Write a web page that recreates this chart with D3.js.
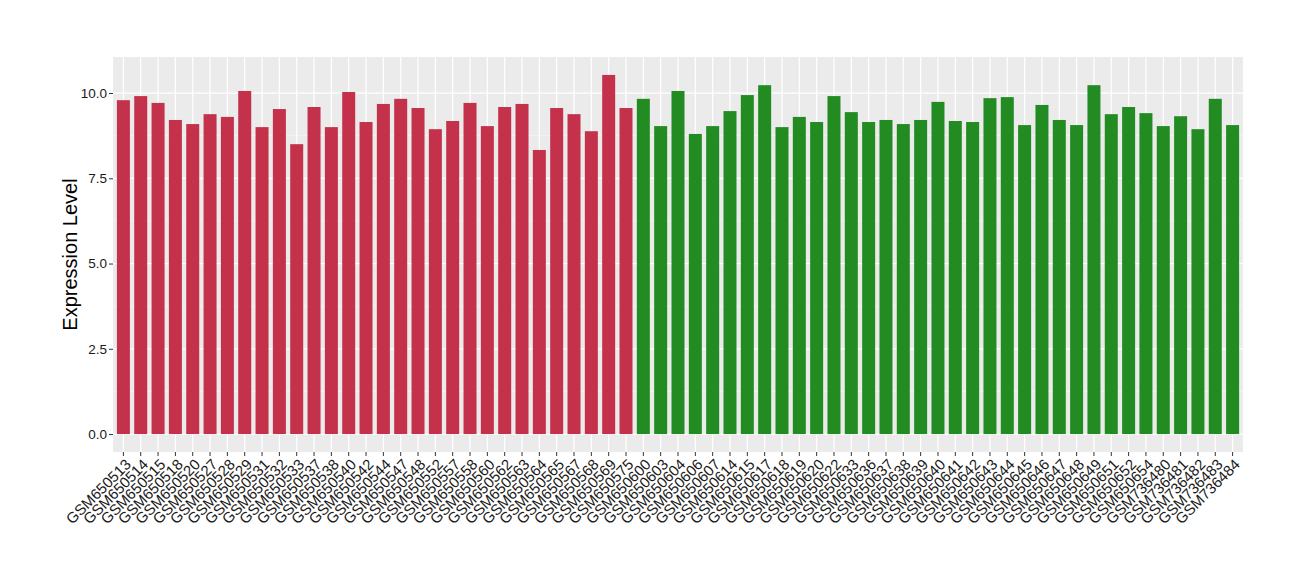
<!DOCTYPE html>
<html>
<head>
<meta charset="utf-8">
<script src="https://cdn.jsdelivr.net/npm/d3@7"></script>
<style>
  body { margin: 0; background: #fff; }
  svg { font-family: "Liberation Sans", Arial, sans-serif; }
</style>
</head>
<body>
<svg id="chart"></svg>
<script>
const width = 1300, height = 580
const margin = {
    top: 57,
    bottom: 128,
    left: 113,
    right: 57,
}

// samples, in plot order
const redSamples = ["GSM650513", "GSM650514", "GSM650515", "GSM650518", "GSM650520", "GSM650527",
    "GSM650528", "GSM650529", "GSM650531", "GSM650532", "GSM650533", "GSM650537", "GSM650538",
    "GSM650540", "GSM650542", "GSM650544", "GSM650547", "GSM650548", "GSM650552", "GSM650557",
    "GSM650558", "GSM650560", "GSM650562", "GSM650563", "GSM650564", "GSM650565", "GSM650567",
    "GSM650568", "GSM650569", "GSM650575"]
const redValues = [9.79, 9.91, 9.71, 9.21, 9.09, 9.38, 9.30, 10.06, 9.00, 9.53, 8.50, 9.59, 9.00,
    10.03, 9.15, 9.68, 9.83, 9.56, 8.94, 9.18, 9.71, 9.03, 9.59, 9.68, 8.33, 9.56, 9.38, 8.88,
    10.53, 9.56]

const greenSamples = ["GSM650600", "GSM650603", "GSM650604", "GSM650606", "GSM650607", "GSM650614",
    "GSM650615", "GSM650617", "GSM650618", "GSM650619", "GSM650620", "GSM650622", "GSM650633",
    "GSM650636", "GSM650637", "GSM650638", "GSM650639", "GSM650640", "GSM650641", "GSM650642",
    "GSM650643", "GSM650644", "GSM650645", "GSM650646", "GSM650647", "GSM650648", "GSM650649",
    "GSM650651", "GSM650652", "GSM650654", "GSM736480", "GSM736481", "GSM736482", "GSM736483",
    "GSM736484"]
const greenValues = [9.83, 9.03, 10.06, 8.80, 9.03, 9.47, 9.94, 10.23, 9.00, 9.30, 9.15, 9.91, 9.44,
    9.15, 9.21, 9.09, 9.21, 9.74, 9.18, 9.15, 9.85, 9.88, 9.06, 9.65, 9.21, 9.06, 10.23, 9.38,
    9.59, 9.41, 9.03, 9.32, 8.94, 9.83, 9.06]

const yTicks = [0, 2.5, 5, 7.5, 10]
const yMinor = [1.25, 3.75, 6.25, 8.75]

const data = [
    ...redSamples.map((s, i) => ({sample: s, value: redValues[i], group: "red"})),
    ...greenSamples.map((s, i) => ({sample: s, value: greenValues[i], group: "green"})),
]

const colorScale = d3.scaleOrdinal()
    .domain(["red", "green"])
    .range(["#c3314a", "#228b22"])

const svg = d3.select("svg#chart")
    .attr("viewBox", [0, 0, width, height])
    .attr("width", width)
    .attr("height", height)

// bar width 0.75 of a step, 0.6 step of expansion on each side
const xScale = d3.scaleBand()
    .domain(data.map(d => d.sample))
    .range([margin.left, width - margin.right])
    .paddingInner(0.25)
    .paddingOuter(0.225)

const maxV = d3.max(data, d => d.value)
const yScale = d3.scaleLinear()
    .domain([-0.05 * maxV, maxV * 1.05])
    .range([height - margin.bottom, margin.top])

// panel
svg.append("rect")
    .attr("x", margin.left)
    .attr("y", margin.top)
    .attr("width", width - margin.left - margin.right)
    .attr("height", height - margin.top - margin.bottom)
    .attr("fill", "#ebebeb")

// minor h grid
svg.append("g").classed("h-grid-minor", true)
    .selectAll("line")
    .data(yMinor)
    .enter()
    .append("line")
    .attr("x1", margin.left)
    .attr("x2", width - margin.right)
    .attr("y1", d => yScale(d))
    .attr("y2", d => yScale(d))
    .attr("stroke", "#f7f7f7")
    .attr("stroke-width", 0.7)

// major h grid
svg.append("g").classed("h-grid", true)
    .selectAll("line")
    .data(yTicks)
    .enter()
    .append("line")
    .attr("x1", margin.left)
    .attr("x2", width - margin.right)
    .attr("y1", d => yScale(d))
    .attr("y2", d => yScale(d))
    .attr("stroke", "#fff")
    .attr("stroke-width", 1.2)

// V grid lines
svg.append("g").classed("v-grid", true)
    .selectAll("line")
    .data(xScale.domain())
    .enter()
    .append("line")
    .attr("x1", d => xScale(d) + xScale.bandwidth() / 2)
    .attr("x2", d => xScale(d) + xScale.bandwidth() / 2)
    .attr("y1", margin.top)
    .attr("y2", height - margin.bottom)
    .attr("stroke", "#fff")
    .attr("stroke-width", 1.2)

// Bars
svg.append("g").classed("bars", true)
    .selectAll("rect")
    .data(data)
    .enter()
    .append("rect")
    .attr("x", d => xScale(d.sample))
    .attr("y", d => yScale(d.value))
    .attr("width", xScale.bandwidth())
    .attr("height", d => yScale(0) - yScale(d.value))
    .attr("fill", d => colorScale(d.group))

// Y axis
const yAxis = svg.append("g").classed("y-axis", true)
    .attr("transform", `translate(${margin.left}, 0)`)
    .call(d3.axisLeft(yScale).tickValues(yTicks).tickFormat(d3.format(".1f")).tickSize(4).tickPadding(2))
yAxis.select(".domain").remove()
yAxis.selectAll(".tick line").attr("stroke", "#333")
yAxis.selectAll(".tick text")
    .attr("fill", "#1a1a1a")
    .attr("font-size", null)
    .style("font-size", "13.5px")

// X axis
const xAxis = svg.append("g").classed("x-axis", true)
    .attr("transform", `translate(0, ${height - margin.bottom})`)
    .call(d3.axisBottom(xScale).tickSize(4).tickPadding(0))
xAxis.select(".domain").remove()
xAxis.selectAll(".tick line").attr("stroke", "#333")
xAxis.selectAll(".tick text")
    .attr("fill", "#1a1a1a")
    .style("font-size", "15px")
    .attr("text-anchor", "end")
    .attr("y", 0)
    .attr("dy", "0.7em")
    .attr("transform", "translate(1, 6) rotate(-45)")

// Y title
svg.append("text")
    .attr("transform", `translate(77, ${(margin.top + height - margin.bottom) / 2}) rotate(-90)`)
    .attr("text-anchor", "middle")
    .style("font-size", "20px")
    .attr("fill", "#000")
    .text("Expression Level")
</script>
</body>
</html>
